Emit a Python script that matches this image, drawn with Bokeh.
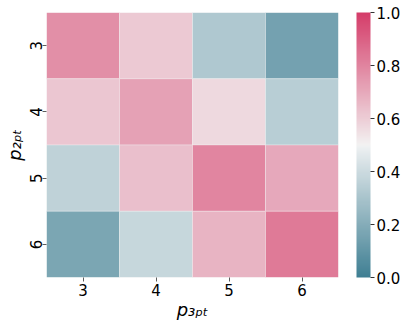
import math
import numpy as np
from bokeh.plotting import figure
from bokeh.models import (ColumnDataSource, LinearColorMapper, ColorBar, FixedTicker,
                          PrintfTickFormatter)
from bokeh.embed import file_html
from bokeh.resources import INLINE

# ---- data ----
p3pt = ["3", "4", "5", "6"]          # columns (x)
p2pt = ["3", "4", "5", "6"]          # rows (y), top to bottom
row_3 = [0.77, 0.61, 0.32, 0.15]
row_4 = [0.62, 0.72, 0.57, 0.34]
row_5 = [0.36, 0.64, 0.80, 0.70]
row_6 = [0.17, 0.38, 0.67, 0.83]
cbar_ticks = [0.0, 0.2, 0.4, 0.6, 0.8, 1.0]
x_title = "p\u2083\u209a\u209c"     # p_3pt
y_title = "p\u2082\u209a\u209c"     # p_2pt

# ---- seaborn-like diverging palette via HUSL ----
M = [[3.240454162114103, -1.537138512797715, -0.49853140955601],
     [-0.969266030505187, 1.876010845446694, 0.041556017530350],
     [0.055643430959114, -0.204025913516754, 1.057225188223179]]
refY, refU, refV = 1.0, 0.19784, 0.46834


def max_chroma(L, H):
    hrad = math.radians(H)
    sinH, cosH = math.sin(hrad), math.cos(hrad)
    sub1 = (L + 16) ** 3 / 1560896.0
    sub2 = sub1 if sub1 > 0.008856 else L / 903.3
    result = float("inf")
    for m1, m2, m3 in M:
        top = (0.99915 * m1 + 1.05122 * m2 + 1.14460 * m3) * sub2
        rbottom = 0.86330 * m3 - 0.17266 * m2
        lbottom = 0.12949 * m3 - 0.38848 * m1
        bottom = (rbottom * sinH + lbottom * cosH) * sub2
        for t in (0.0, 1.0):
            C = L * (top - 1.05122 * t) / (bottom + 0.17266 * sinH * t)
            if 0.0 < C < result:
                result = C
    return result


def husl_to_rgb(H, S, L):
    C = max_chroma(L, H) / 100.0 * S
    hrad = math.radians(H)
    U, V = math.cos(hrad) * C, math.sin(hrad) * C
    t = (L + 16) / 116.0
    varY = t ** 3 if t ** 3 > 0.008856 else (116 * t - 16) / 903.3
    varU = U / (13 * L) + refU
    varV = V / (13 * L) + refV
    Y = varY * refY
    X = -(9 * Y * varU) / ((varU - 4) * varV - varU * varV)
    Z = (9 * Y - 15 * varV * Y - varV * X) / (3 * varV)
    out = []
    for r in M:
        c = r[0] * X + r[1] * Y + r[2] * Z
        c = 12.92 * c if c <= 0.0031308 else 1.055 * c ** (1 / 2.4) - 0.055
        out.append(min(max(c, 0.0), 1.0))
    return np.array(out)


H_NEG, H_POS = 220, 0
anchors_pos = [0.0, 127 / 256, 0.5, 129 / 256, 1.0]
anchors = [husl_to_rgb(H_NEG, 75, 50), husl_to_rgb(H_NEG, 11.25, 95),
           np.array([0.95, 0.95, 0.95]),
           husl_to_rgb(H_POS, 11.25, 95), husl_to_rgb(H_POS, 75, 50)]
palette = []
for f in np.linspace(0, 1, 256):
    rgb = [np.interp(f, anchors_pos, [a[k] for a in anchors]) for k in range(3)]
    palette.append("#%02x%02x%02x" % tuple(int(round(c * 255)) for c in rgb))

mapper = LinearColorMapper(palette=palette, low=0.0, high=1.0)

rows = [row_3, row_4, row_5, row_6]
xs, ys, vs = [], [], []
for r, vals in zip(p2pt, rows):
    for c, v in zip(p3pt, vals):
        xs.append(c); ys.append(r); vs.append(v)
src = ColumnDataSource(dict(x=xs, y=ys, v=vs))

FONT = "DejaVu Sans"

p = figure(x_range=p3pt, y_range=list(reversed(p2pt)),
           frame_width=292, frame_height=265,
           min_border_left=46, min_border_top=12, min_border_bottom=30,
           min_border_right=40,
           x_axis_label=x_title, y_axis_label=y_title,
           output_backend="svg", toolbar_location=None)
p.rect(x="x", y="y", width=1, height=1, source=src,
       fill_color={"field": "v", "transform": mapper},
       line_color="#f4f4f4", line_width=0.6, line_alpha=0.6)

p.outline_line_color = None
p.xgrid.grid_line_color = None
p.ygrid.grid_line_color = None
for ax in (p.xaxis[0], p.yaxis[0]):
    ax.axis_line_color = None
    ax.major_tick_in = 0
    ax.major_tick_out = 4
    ax.major_tick_line_color = "#333333"
    ax.major_tick_line_width = 0.8
    ax.major_label_text_font = FONT
    ax.major_label_text_font_size = "15px"
    ax.major_label_text_color = "#000000"
    ax.axis_label_text_font = FONT
    ax.axis_label_text_font_size = "18px"
    ax.axis_label_text_font_style = "italic"
    ax.axis_label_text_color = "#000000"
p.xaxis[0].major_label_standoff = 2
p.yaxis[0].major_label_standoff = 1
p.yaxis[0].major_label_orientation = "vertical"
p.xaxis[0].axis_label_standoff = 0
p.yaxis[0].axis_label_standoff = 2

cb = ColorBar(color_mapper=mapper, width=14, height=265, padding=0, margin=0,
              location=(18, 0),
              ticker=FixedTicker(ticks=cbar_ticks),
              formatter=PrintfTickFormatter(format="%.1f"),
              major_tick_in=0, major_tick_out=4,
              major_tick_line_color="#333333",
              label_standoff=2,
              major_label_text_font=FONT,
              major_label_text_font_size="15px",
              major_label_text_color="#000000",
              bar_line_color=None, border_line_color=None,
              background_fill_color=None)
p.add_layout(cb, "right")

out = file_html(p, INLINE)
open("out.html", "w").write(out)
